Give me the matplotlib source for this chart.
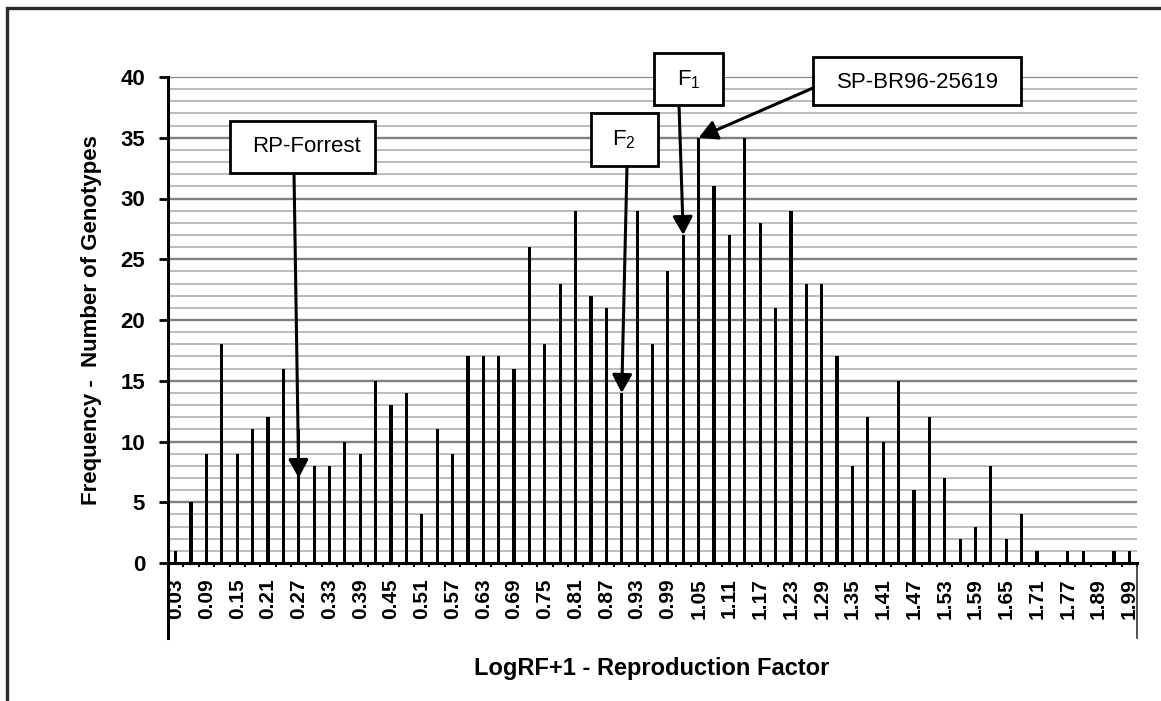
import matplotlib
matplotlib.use('Agg')
import matplotlib.pyplot as plt
from matplotlib.patches import Rectangle
import numpy as np

plt.rcParams['font.family'] = ['Liberation Sans', 'DejaVu Sans']
plt.rcParams['mathtext.default'] = 'regular'

# ---------------- data ----------------
categories = ['0.03', '0.06', '0.09', '0.12', '0.15', '0.18', '0.21', '0.24', '0.27', '0.30',
              '0.33', '0.36', '0.39', '0.42', '0.45', '0.48', '0.51', '0.54', '0.57', '0.60',
              '0.63', '0.66', '0.69', '0.72', '0.75', '0.78', '0.81', '0.84', '0.87', '0.90',
              '0.93', '0.96', '0.99', '1.02', '1.05', '1.08', '1.11', '1.14', '1.17', '1.20',
              '1.23', '1.26', '1.29', '1.32', '1.35', '1.38', '1.41', '1.44', '1.47', '1.50',
              '1.53', '1.56', '1.59', '1.62', '1.65', '1.68', '1.71', '1.74', '1.77', '1.83',
              '1.89', '1.95', '1.99']
frequency = [1, 5, 9, 18, 9, 11, 12, 16, 11, 8,
             8, 10, 9, 15, 13, 14, 4, 11, 9, 17,
             17, 17, 16, 26, 18, 23, 29, 22, 21, 14,
             29, 18, 24, 27, 35, 31, 27, 35, 28, 21,
             29, 23, 23, 17, 8, 12, 10, 15, 6, 12,
             7, 2, 3, 8, 2, 4, 1, 0, 1, 1,
             0, 1, 1]
y_ticks = [0, 5, 10, 15, 20, 25, 30, 35, 40]
x_label = 'LogRF+1 - Reproduction Factor'
y_label = 'Frequency -  Number of Genotypes'

marker_names = ['RP-Forrest', 'F$_2$', 'F$_1$', 'SP-BR96-25619']
marker_category = ['0.27', '0.90', '1.02', '1.05']
marker_value = [7, 14, 27, 35]

# ---------------- layout helpers ----------------
W, H = 1161, 701
fig = plt.figure(figsize=(W / 100, H / 100), dpi=100)
fig.patch.set_facecolor('white')


def fx(px):
    return px / W


def fy(py):
    return 1 - py / H


ax = fig.add_axes([fx(168), fy(563), fx(1137) - fx(168), fy(77) - fy(563)])
x = np.arange(len(categories))
ax.bar(x, frequency, width=0.21, color='black', zorder=3)
ax.set_xlim(-0.5, len(categories) - 0.5)
ax.set_ylim(0, 40)

# gridlines
for v in range(1, 40):
    if v % 5 == 0:
        ax.axhline(v, color='#808080', lw=1.7, zorder=1)
    else:
        ax.axhline(v, color='#bcbcbc', lw=1.4, zorder=1)
ax.axhline(40, color='#8a8a8a', lw=0.9, zorder=1, clip_on=False)

for s in ['top', 'right']:
    ax.spines[s].set_visible(False)
for s in ['left', 'bottom']:
    ax.spines[s].set_linewidth(2.2)
    ax.spines[s].set_color('black')
    ax.spines[s].set_zorder(4)

ax.set_yticks(y_ticks)
ax.set_yticklabels([str(t) for t in y_ticks], fontsize=16, fontweight='bold')
ax.tick_params(axis='y', length=6.5, width=2, pad=10, direction='out')

ax.set_xticks(x[::2])
ax.set_xticklabels(categories[::2], rotation=90, fontsize=15, fontweight='bold')
ax.tick_params(axis='x', which='major', length=0, pad=11)
ax.set_xticks(np.arange(-0.5, len(categories)), minor=True)
ax.tick_params(axis='x', which='minor', length=3, width=1.5, direction='out')

# long end lines below the category axis
drop = (638 - 563) / (563 - 77)
ax.plot([0, 0], [0, -drop], transform=ax.transAxes, clip_on=False, color='black', lw=2.2)
ax.plot([1, 1], [0, -drop], transform=ax.transAxes, clip_on=False, color='#333333', lw=1.2)

fig.text(fx(652), fy(668), x_label, ha='center', va='center', fontsize=17, fontweight='bold')
fig.text(fx(92), fy(320), y_label, ha='center', va='center', rotation=90,
         fontsize=16, fontweight='bold')

# outer frame (cropped on right and bottom)
fig.add_artist(Rectangle((fx(7), fy(900)), 1.5, fy(8) - fy(900), transform=fig.transFigure,
                         fill=False, ec='#2b2b2b', lw=2.4, zorder=0))

# callout boxes and arrows
boxes = [(230, 121, 375, 173, 307, 147),
         (591, 113, 658, 166, 624, 140),
         (654, 53, 723, 105, 689, 80),
         (813, 57, 1021, 105, 918, 82)]
starts = [(294, 173), (627, 166), (679, 105), (813, 88)]

for name, cat, val, b, st in zip(marker_names, marker_category, marker_value, boxes, starts):
    xi = categories.index(cat)
    ax.annotate('', xy=(xi, val), xycoords='data',
                xytext=(fx(st[0]), fy(st[1])), textcoords='figure fraction',
                arrowprops=dict(arrowstyle='-|>,head_length=0.55,head_width=0.3',
                                color='black', lw=2.2, shrinkA=0, shrinkB=0,
                                mutation_scale=20),
                zorder=6, annotation_clip=False)
    x0, y0, x1, y1, tx, ty = b
    fig.add_artist(Rectangle((fx(x0), fy(y1)), fx(x1) - fx(x0), fy(y0) - fy(y1),
                             transform=fig.transFigure, facecolor='white',
                             edgecolor='black', lw=2, zorder=7))
    fig.text(fx(tx), fy(ty), name, ha='center', va='center', fontsize=16, zorder=8)

fig.savefig('out.png', dpi=100, facecolor='white')
